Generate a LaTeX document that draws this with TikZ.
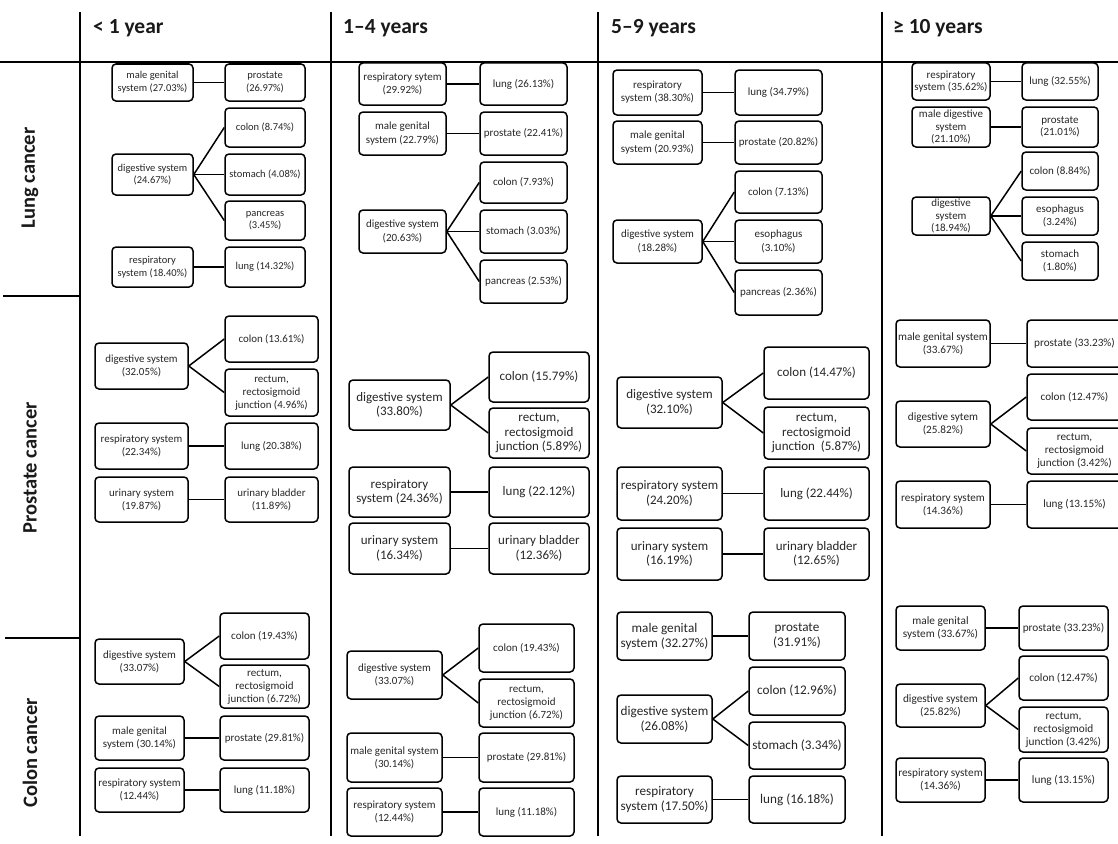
\documentclass[tikz,border=0pt]{standalone}
\usepackage{fontspec}
\setmainfont{Carlito}
\newcommand\bx[6]{\node[box,minimum width={(#4-#2)*1pt},minimum height={(#5-#3)*1pt}] (#1) at ({(#2+#4)/2},{(#3+#5)/2}) {#6};}
\tikzset{
  box/.style={draw=black, line width=1.5pt, rounded corners=4pt, align=center, inner sep=0pt, text=black!85},
  conn/.style={line width=1.5pt, black},
  gridline/.style={line width=1.6pt, black},
  head/.style={font=\fontsize{21.5}{25}\selectfont\bfseries, anchor=base west, inner sep=0pt, text=black!90},
  rowlab/.style={font=\fontsize{20.5}{24}\selectfont\bfseries, rotate=90, inner sep=0pt, text=black!90}
}
\begin{document}
\begin{tikzpicture}[x=1pt,y=-1pt]
\useasboundingbox (0,0) rectangle (1118,843);
% grid
\draw[gridline] (0,62) -- (1118,62);
\foreach \gx in {80,331,598,882} \draw[gridline] (\gx,12) -- (\gx,836);
\draw[gridline] (3,296) -- (80,296);
\draw[gridline] (5,638) -- (80,638);
% headers
\node[head] (h1) at (93,34) {< 1 year};
\node[head] (h2) at (343,34) {1–4 years};
\node[head] (h3) at (611,34) {5–9 years};
\node[head] (h4) at (893,34) {≥ 10 years};
\node[rowlab] (r1) at (30,178) {Lung cancer};
\node[rowlab] (r2) at (30,468) {Prostate cancer};
\node[rowlab] (r3) at (30,753) {Colon cancer};
% Lung <1
\begin{scope}[font=\fontsize{10.5}{12.6}\selectfont]
\bx{a1}{112}{64}{193}{101}{male genital\\system (27.03\%)}
\bx{a2}{225}{64}{305}{101}{prostate\\(26.97\%)}
\bx{a3}{225}{108}{305}{147}{colon (8.74\%)}
\bx{a4}{112}{154}{193}{195}{digestive system\\(24.67\%)}
\bx{a5}{225}{154}{305}{195}{stomach (4.08\%)}
\bx{a6}{225}{201}{305}{240}{pancreas\\(3.45\%)}
\bx{a7}{112}{247}{193}{287}{respiratory\\system (18.40\%)}
\bx{a8}{225}{247}{305}{287}{lung (14.32\%)}
\end{scope}
\draw[conn] (a1.east) -- (a2.west);
\draw[conn] (a4.east) -- (a3.west);
\draw[conn] (a4.east) -- (a5.west);
\draw[conn] (a4.east) -- (a6.west);
\draw[conn] (a7.east) -- (a8.west);
% Lung 1-4
\begin{scope}[font=\fontsize{11}{13.2}\selectfont]
\bx{b1}{359}{63}{446}{105}{respiratory sytem\\(29.92\%)}
\bx{b2}{480}{63}{567}{105}{lung (26.13\%)}
\bx{b3}{359}{112}{446}{155}{male genital\\system (22.79\%)}
\bx{b4}{480}{112}{567}{155}{prostate (22.41\%)}
\bx{b5}{480}{162}{567}{203}{colon (7.93\%)}
\bx{b6}{359}{210}{446}{253}{digestive system\\(20.63\%)}
\bx{b7}{480}{210}{567}{253}{stomach (3.03\%)}
\bx{b8}{480}{260}{567}{303}{pancreas (2.53\%)}
\end{scope}
\draw[conn] (b1.east) -- (b2.west);
\draw[conn] (b3.east) -- (b4.west);
\draw[conn] (b6.east) -- (b5.west);
\draw[conn] (b6.east) -- (b7.west);
\draw[conn] (b6.east) -- (b8.west);
% Lung 5-9
\begin{scope}[font=\fontsize{11}{13.2}\selectfont]
\bx{c1}{613}{70}{702}{115}{respiratory\\system (38.30\%)}
\bx{c2}{735}{70}{822}{115}{lung (34.79\%)}
\bx{c3}{613}{121}{702}{164}{male genital\\system (20.93\%)}
\bx{c4}{735}{121}{822}{164}{prostate (20.82\%)}
\bx{c5}{735}{171}{822}{213}{colon (7.13\%)}
\bx{c6}{613}{220}{702}{263}{digestive system\\(18.28\%)}
\bx{c7}{735}{220}{822}{263}{esophagus\\(3.10\%)}
\bx{c8}{735}{270}{822}{315}{pancreas (2.36\%)}
\end{scope}
\draw[conn] (c1.east) -- (c2.west);
\draw[conn] (c3.east) -- (c4.west);
\draw[conn] (c6.east) -- (c5.west);
\draw[conn] (c6.east) -- (c7.west);
\draw[conn] (c6.east) -- (c8.west);
% Lung >=10
\begin{scope}[font=\fontsize{11}{12.2}\selectfont]
\bx{d1}{912}{63}{990}{100}{respiratory\\system (35.62\%)}
\bx{d2}{1022}{63}{1098}{100}{lung (32.55\%)}
\bx{d3}{912}{107}{990}{147}{male digestive\\system\\(21.10\%)}
\bx{d4}{1022}{107}{1098}{147}{prostate\\(21.01\%)}
\bx{d5}{1022}{152}{1098}{190}{colon (8.84\%)}
\bx{d6}{912}{197}{990}{235}{digestive\\system\\(18.94\%)}
\bx{d7}{1022}{197}{1098}{235}{esophagus\\(3.24\%)}
\bx{d8}{1022}{242}{1098}{280}{stomach\\(1.80\%)}
\end{scope}
\draw[conn] (d1.east) -- (d2.west);
\draw[conn] (d3.east) -- (d4.west);
\draw[conn] (d6.east) -- (d5.west);
\draw[conn] (d6.east) -- (d7.west);
\draw[conn] (d6.east) -- (d8.west);
% Prostate <1
\begin{scope}[font=\fontsize{10.9}{13}\selectfont]
\bx{e1}{95}{343}{188}{389}{digestive system\\(32.05\%)}
\bx{e2}{225}{316}{318}{362}{colon (13.61\%)}
\bx{e3}{225}{369}{318}{416}{rectum,\\rectosigmoid\\junction (4.96\%)}
\bx{e4}{95}{423}{188}{469}{respiratory system\\(22.34\%)}
\bx{e5}{225}{423}{318}{469}{lung (20.38\%)}
\bx{e6}{95}{477}{188}{522}{urinary system\\(19.87\%)}
\bx{e7}{225}{477}{318}{522}{urinary bladder\\(11.89\%)}
\end{scope}
\draw[conn] (e1.east) -- (e2.west);
\draw[conn] (e1.east) -- (e3.west);
\draw[conn] (e4.east) -- (e5.west);
\draw[conn] (e6.east) -- (e7.west);
% Prostate 1-4
\begin{scope}[font=\fontsize{13}{14.5}\selectfont]
\bx{f1}{349}{380}{450}{430}{digestive system\\(33.80\%)}
\bx{f2}{489}{352}{589}{402}{colon (15.79\%)}
\bx{f3}{489}{408}{589}{458}{rectum,\\rectosigmoid\\junction (5.89\%)}
\bx{f4}{349}{467}{450}{517}{respiratory\\system (24.36\%)}
\bx{f5}{489}{467}{589}{517}{lung (22.12\%)}
\bx{f6}{349}{523}{450}{574}{urinary system\\(16.34\%)}
\bx{f7}{489}{523}{589}{574}{urinary bladder\\(12.36\%)}
\end{scope}
\draw[conn] (f1.east) -- (f2.west);
\draw[conn] (f1.east) -- (f3.west);
\draw[conn] (f4.east) -- (f5.west);
\draw[conn] (f6.east) -- (f7.west);
% Prostate 5-9
\begin{scope}[font=\fontsize{13}{14.5}\selectfont]
\bx{g1}{617}{377}{722}{428}{digestive system\\(32.10\%)}
\bx{g2}{764}{347}{869}{399}{colon (14.47\%)}
\bx{g3}{764}{407}{869}{459}{rectum,\\rectosigmoid\\junction\ \ (5.87\%)}
\bx{g4}{617}{467}{722}{520}{respiratory system\\(24.20\%)}
\bx{g5}{764}{467}{869}{520}{lung (22.44\%)}
\bx{g6}{617}{528}{722}{580}{urinary system\\(16.19\%)}
\bx{g7}{764}{528}{869}{580}{urinary bladder\\(12.65\%)}
\end{scope}
\draw[conn] (g1.east) -- (g2.west);
\draw[conn] (g1.east) -- (g3.west);
\draw[conn] (g4.east) -- (g5.west);
\draw[conn] (g6.east) -- (g7.west);
% Prostate >=10
\begin{scope}[font=\fontsize{11.2}{13}\selectfont]
\bx{h1}{896}{320}{990}{367}{male genital system\\(33.67\%)}
\bx{h2}{1027}{320}{1122}{367}{prostate (33.23\%)}
\bx{h3}{1027}{374}{1122}{420}{colon (12.47\%)}
\bx{h4}{896}{401}{990}{447}{digestive sytem\\(25.82\%)}
\bx{h5}{1027}{428}{1122}{474}{rectum,\\rectosigmoid\\junction (3.42\%)}
\bx{h6}{896}{481}{990}{528}{respiratory system\\(14.36\%)}
\bx{h7}{1027}{481}{1122}{528}{lung (13.15\%)}
\end{scope}
\draw[conn] (h1.east) -- (h2.west);
\draw[conn] (h4.east) -- (h3.west);
\draw[conn] (h4.east) -- (h5.west);
\draw[conn] (h6.east) -- (h7.west);
% Colon <1
\begin{scope}[font=\fontsize{11}{13}\selectfont]
\bx{i1}{95}{639}{184}{684}{digestive system\\(33.07\%)}
\bx{i2}{220}{613}{309}{659}{colon (19.43\%)}
\bx{i3}{220}{665}{309}{708}{rectum,\\rectosigmoid\\junction (6.72\%)}
\bx{i4}{95}{716}{184}{760}{male genital\\system (30.14\%)}
\bx{i5}{220}{716}{309}{760}{prostate (29.81\%)}
\bx{i6}{95}{768}{184}{812}{respiratory system\\(12.44\%)}
\bx{i7}{220}{768}{309}{812}{lung (11.18\%)}
\end{scope}
\draw[conn] (i1.east) -- (i2.west);
\draw[conn] (i1.east) -- (i3.west);
\draw[conn] (i4.east) -- (i5.west);
\draw[conn] (i6.east) -- (i7.west);
% Colon 1-4
\begin{scope}[font=\fontsize{11}{13}\selectfont]
\bx{j1}{347}{651}{442}{699}{digestive system\\(33.07\%)}
\bx{j2}{479}{624}{574}{672}{colon (19.43\%)}
\bx{j3}{479}{679}{574}{727}{rectum,\\rectosigmoid\\junction (6.72\%)}
\bx{j4}{347}{733}{442}{782}{male genital system\\(30.14\%)}
\bx{j5}{479}{733}{574}{782}{prostate (29.81\%)}
\bx{j6}{347}{788}{442}{836}{respiratory system\\(12.44\%)}
\bx{j7}{479}{788}{574}{836}{lung (11.18\%)}
\end{scope}
\draw[conn] (j1.east) -- (j2.west);
\draw[conn] (j1.east) -- (j3.west);
\draw[conn] (j4.east) -- (j5.west);
\draw[conn] (j6.east) -- (j7.west);
% Colon 5-9
\begin{scope}[font=\fontsize{13.2}{15}\selectfont]
\bx{k1}{617}{612}{712}{660}{male genital\\system (32.27\%)}
\bx{k2}{749}{612}{845}{660}{prostate\\(31.91\%)}
\bx{k3}{749}{667}{845}{715}{colon (12.96\%)}
\bx{k4}{617}{695}{712}{743}{digestive system\\(26.08\%)}
\bx{k5}{749}{722}{845}{769}{stomach (3.34\%)}
\bx{k6}{617}{776}{712}{823}{respiratory\\system (17.50\%)}
\bx{k7}{749}{776}{845}{823}{lung (16.18\%)}
\end{scope}
\draw[conn] (k1.east) -- (k2.west);
\draw[conn] (k4.east) -- (k3.west);
\draw[conn] (k4.east) -- (k5.west);
\draw[conn] (k6.east) -- (k7.west);
% Colon >=10
\begin{scope}[font=\fontsize{11.3}{13}\selectfont]
\bx{l1}{896}{606}{985}{650}{male genital\\system (33.67\%)}
\bx{l2}{1019}{606}{1108}{650}{prostate (33.23\%)}
\bx{l3}{1019}{656}{1108}{700}{colon (12.47\%)}
\bx{l4}{896}{684}{985}{727}{digestive system\\(25.82\%)}
\bx{l5}{1019}{707}{1108}{752}{rectum,\\rectosigmoid\\junction (3.42\%)}
\bx{l6}{896}{758}{985}{802}{respiratory system\\(14.36\%)}
\bx{l7}{1019}{758}{1108}{802}{lung (13.15\%)}
\end{scope}
\draw[conn] (l1.east) -- (l2.west);
\draw[conn] (l4.east) -- (l3.west);
\draw[conn] (l4.east) -- (l5.west);
\draw[conn] (l6.east) -- (l7.west);
\end{tikzpicture}
\end{document}
